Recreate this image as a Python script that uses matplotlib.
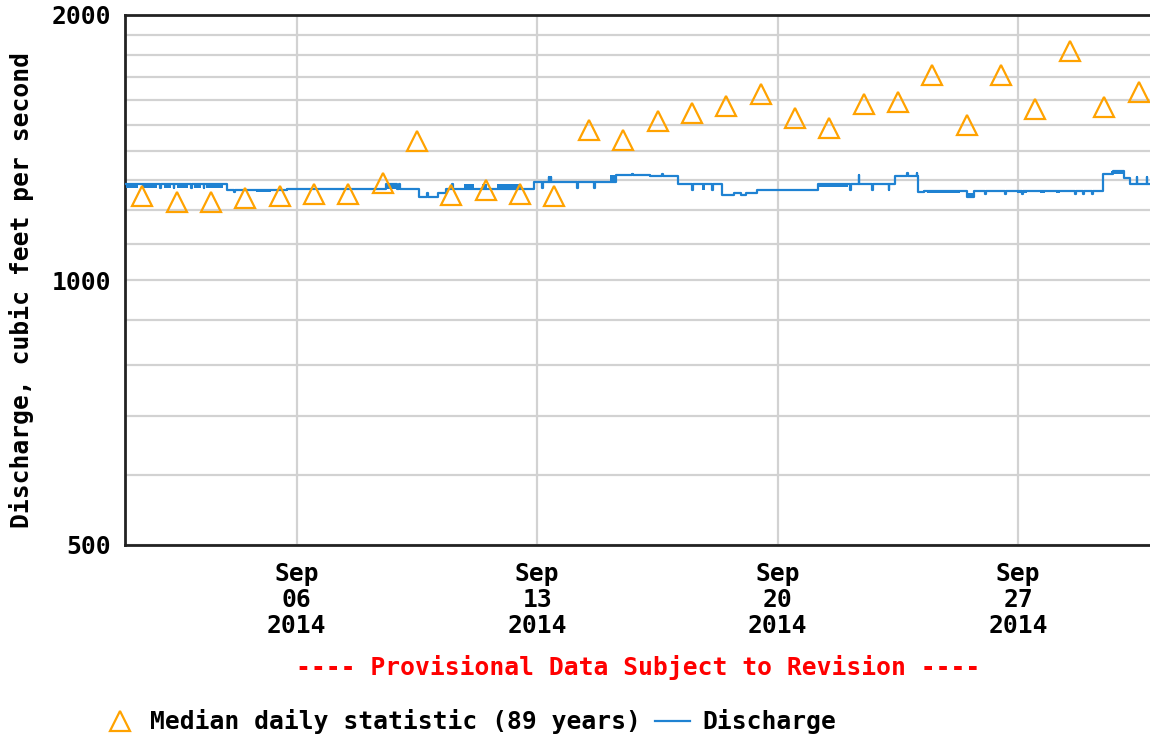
import pandas as pd
import matplotlib
matplotlib.use("Agg")
import matplotlib.pyplot as plt
from matplotlib.ticker import FixedLocator, NullFormatter
from matplotlib.lines import Line2D

# median daily statistic (89 years), one value per day at noon, Sep 1..30
median_days = list(range(1, 31))
median_cfs = [1245, 1227, 1227, 1240, 1246, 1253, 1253, 1290, 1439, 1250,
              1265, 1251, 1247, 1480, 1443, 1517, 1546, 1576, 1625, 1527,
              1488, 1585, 1595, 1710, 1498, 1710, 1566, 1818, 1574, 1634]

# discharge, step changes (value holds until next time)
q_time = ["09-01 00:00",
          "09-02 00:30", "09-02 01:00", "09-02 10:00", "09-02 10:30",
          "09-02 22:00", "09-02 22:30", "09-03 07:00", "09-03 07:30",
          "09-03 23:30", "09-04 04:00", "09-04 04:30",
          "09-05 17:30", "09-08 14:00", "09-08 22:00", "09-08 23:15", "09-09 00:00",
          "09-09 13:15", "09-09 19:15", "09-09 19:45", "09-10 02:30",
          "09-10 08:00", "09-10 12:30", "09-10 13:00",
          "09-12 21:30", "09-13 03:30", "09-13 04:00", "09-13 08:00", "09-13 08:30",
          "09-13 09:15", "09-13 09:45", "09-14 04:00", "09-14 04:30",
          "09-14 15:30", "09-14 16:00",
          "09-15 07:00", "09-15 18:15", "09-15 18:45", "09-16 07:00",
          "09-16 15:15", "09-16 15:45",
          "09-17 02:30", "09-17 12:15", "09-17 12:45", "09-18 02:15", "09-18 02:45",
          "09-18 09:00", "09-18 17:15", "09-18 22:00", "09-19 01:30", "09-19 09:45",
          "09-21 04:15", "09-22 02:30", "09-22 03:00", "09-22 08:30", "09-22 09:00",
          "09-22 18:00", "09-22 18:30", "09-23 05:30", "09-23 06:00",
          "09-23 10:00", "09-23 18:15", "09-23 18:45", "09-24 01:00", "09-24 01:30",
          "09-24 02:15", "09-24 06:00",
          "09-25 12:15", "09-25 16:45",
          "09-26 01:00", "09-26 01:30", "09-26 15:00", "09-26 15:30",
          "09-27 02:30", "09-27 03:00", "09-28 15:45", "09-28 16:15",
          "09-28 21:15", "09-28 21:45", "09-29 03:30", "09-29 04:00",
          "09-29 11:15", "09-29 18:15", "09-30 01:30", "09-30 06:15",
          "09-30 10:45", "09-30 11:15", "09-30 17:45", "09-30 18:15", "09-30 20:00"]
q_cfs = [1285,
         1272, 1285, 1272, 1285,
         1272, 1285, 1272, 1285,
         1264, 1259, 1264,
         1268, 1287, 1268, 1287, 1268,
         1243, 1256, 1243, 1256,
         1268, 1287, 1268,
         1292, 1273, 1292, 1310, 1292,
         1310, 1292, 1273, 1292,
         1273, 1292,
         1315, 1320, 1315, 1312,
         1320, 1312,
         1287, 1264, 1287, 1264, 1287,
         1249, 1254, 1249, 1254, 1266,
         1287, 1264, 1287, 1317, 1287,
         1264, 1287, 1264, 1287,
         1313, 1322, 1313, 1322, 1313,
         1258, 1261,
         1243, 1261,
         1252, 1261, 1252, 1261,
         1252, 1261, 1252, 1261,
         1252, 1261, 1252, 1261,
         1320, 1330, 1305, 1287,
         1310, 1287, 1310, 1287, 1287]

# stretches where the 15-minute record flickers between two levels
band_start = ["09-01 00:30", "09-01 11:45", "09-02 03:00", "09-02 12:15", "09-03 00:00",
              "09-03 08:30", "09-04 19:30", "09-08 14:00", "09-10 20:30", "09-11 09:30",
              "09-11 20:00", "09-15 03:00", "09-17 19:15", "09-21 04:15", "09-24 08:30",
              "09-25 12:15", "09-26 23:00", "09-27 15:30", "09-28 02:00", "09-28 09:00",
              "09-29 17:00"]
band_end = ["09-01 09:00", "09-01 22:15", "09-02 08:00", "09-02 20:00", "09-03 05:00",
            "09-03 20:30", "09-05 05:45", "09-08 22:00", "09-11 03:30", "09-11 13:00",
            "09-12 12:30", "09-15 07:00", "09-17 21:30", "09-22 00:45", "09-25 07:30",
            "09-25 16:45", "09-27 06:00", "09-27 19:00", "09-28 05:15", "09-29 09:00",
            "09-30 01:30"]
band_low = [1272, 1272, 1272, 1272, 1272, 1272, 1259, 1268, 1268, 1268,
            1272, 1292, 1264, 1275, 1257, 1243, 1257, 1257, 1257, 1258, 1320]
band_high = [1285, 1285, 1285, 1285, 1285, 1285, 1264, 1287, 1287, 1287,
             1287, 1315, 1287, 1287, 1262, 1255, 1264, 1263, 1263, 1262, 1330]


def ts(s):
    return pd.Timestamp("2014-" + s)


font = dict(family="DejaVu Sans Mono", weight="bold", size=17.7)
blue = "#1f82d2"
orange = "#ffa200"

fig = plt.figure(figsize=(11.5, 7.4), dpi=100)
ax = fig.add_axes([125 / 1150, 1 - 545 / 740, 1 - 125 / 1150, 530 / 740])

ax.set_yscale("log")
ax.set_ylim(500, 2000)
ax.set_xlim(ts("09-01 00:00"), ts("09-30 20:00"))

ax.yaxis.set_major_locator(FixedLocator([500, 1000, 2000]))
ax.yaxis.set_minor_locator(FixedLocator([600, 700, 800, 900, 1100, 1200, 1300, 1400,
                                         1500, 1600, 1700, 1800, 1900]))
ax.yaxis.set_minor_formatter(NullFormatter())
ax.set_yticklabels(["500", "1000", "2000"], fontdict=font)

xt = [ts("09-06 00:00"), ts("09-13 00:00"), ts("09-20 00:00"), ts("09-27 00:00")]
ax.set_xticks(xt)
ax.set_xticklabels(["Sep\n06\n2014", "Sep\n13\n2014", "Sep\n20\n2014", "Sep\n27\n2014"],
                   fontdict=font, linespacing=1.12)

ax.grid(True, which="both", color="#d2d2d2", lw=1.6)
ax.set_axisbelow(True)
ax.tick_params(which="both", length=0)
ax.tick_params(axis="y", pad=10)
ax.tick_params(axis="x", pad=12)

for side in ["left", "top", "bottom"]:
    ax.spines[side].set_linewidth(2)
    ax.spines[side].set_color("#222222")
ax.spines["right"].set_visible(False)

# discharge
qt = [ts(s) for s in q_time]
ax.step(qt, q_cfs, where="post", color=blue, lw=1.6, zorder=3)
for s, e, lo, hi in zip(band_start, band_end, band_low, band_high):
    ax.fill_between([ts(s), ts(e)], [lo, lo], [hi, hi], color=blue, lw=0, zorder=3)

# medians
mt = [pd.Timestamp(2014, 9, d, 12) for d in median_days]
ax.plot(mt, median_cfs, ls="none", marker="^", ms=15, mfc="none",
        mec=orange, mew=1.6, zorder=4)

fig.text(22 / 1150, 1 - 290 / 740, "Discharge, cubic feet per second",
         rotation=90, ha="center", va="center", **font)
fig.text(638 / 1150, 1 - 668 / 740, "---- Provisional Data Subject to Revision ----",
         ha="center", va="center", color="red", **font)

handles = [Line2D([], [], ls="none", marker="^", ms=15, mfc="none", mec=orange, mew=1.6),
           Line2D([], [], color=blue, lw=1.6)]
fig.legend(handles, ["Median daily statistic (89 years)", "Discharge"],
           loc="center left", bbox_to_anchor=(93 / 1150, 1 - 722 / 740),
           ncol=2, frameon=False, prop=font, handlelength=1.4,
           handletextpad=0.5, columnspacing=0.6, borderaxespad=0)

fig.savefig("out.png", dpi=100)
